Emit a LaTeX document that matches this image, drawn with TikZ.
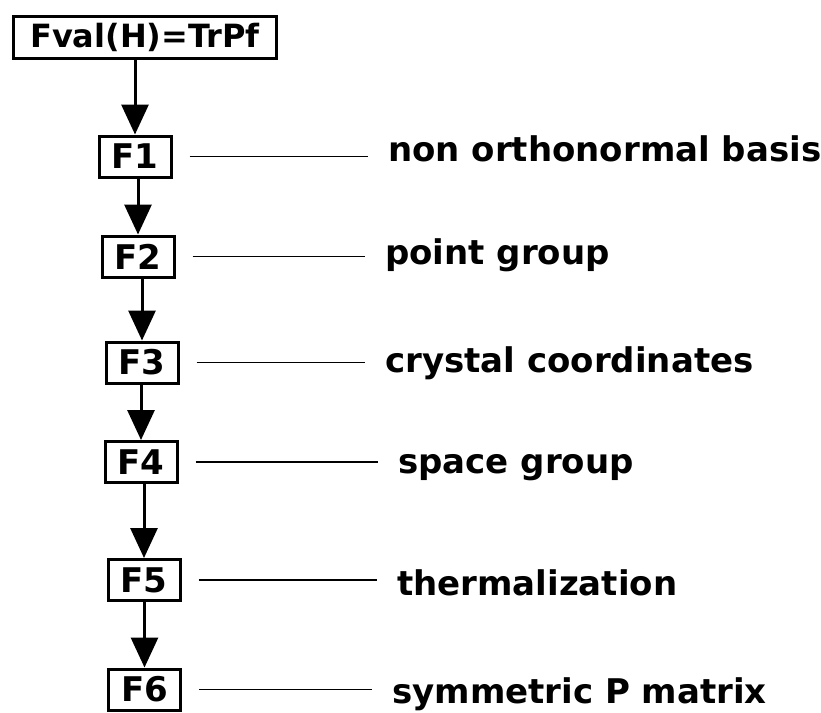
\documentclass[tikz,border=0pt]{standalone}
\usepackage{fontspec}
\setmainfont{DejaVu Sans}
\usetikzlibrary{arrows.meta}
\tikzset{
  fbox/.style={draw, line width=3pt, minimum width=72pt, minimum height=41pt, inner sep=0pt,
    font=\fontsize{34}{36}\selectfont\bfseries},
  topbox/.style={draw, line width=3pt, minimum width=263pt, minimum height=42pt, inner sep=0pt,
    font=\fontsize{32}{34}\selectfont\bfseries},
  lab/.style={anchor=base west, inner sep=0pt, font=\fontsize{34}{36}\selectfont\bfseries},
  flow/.style={line width=3pt, -{Triangle[width=27pt,length=30pt]}},
  tie/.style={line width=1.5pt}
}
\begin{document}
\begin{tikzpicture}[x=1pt,y=-1pt]
\useasboundingbox (0,0) rectangle (821,712);
\node[topbox] (T) at (145,37.5) {Fval(H)=TrPf};
\node[fbox] (F1) at (135,156.5) {F1};
\node[fbox] (F2) at (138,256.5) {F2};
\node[fbox] (F3) at (142,362.5) {F3};
\node[fbox] (F4) at (141,462) {F4};
\node[fbox] (F5) at (144,580) {F5};
\node[fbox] (F6) at (144.5,689.5) {F6};
\node[lab] (L1) at (388,161) {non orthonormal basis};
\node[lab] (L2) at (385,264) {point group};
\node[lab] (L3) at (385,372) {crystal coordinates};
\node[lab] (L4) at (398,473) {space group};
\node[lab] (L5) at (397,595) {thermalization};
\node[lab] (L6) at (392,703) {symmetric P matrix};
\foreach \a/\b in {T/F1,F1/F2,F2/F3,F3/F4,F4/F5,F5/F6}
  \draw[flow] (\b.north |- \a.south) -- (\b.north);
\foreach \i in {1,...,6}
  \draw[tie] ([xshift=17pt]F\i.east) -- ([xshift=-20pt]L\i.west |- F\i.east);
\end{tikzpicture}
\end{document}
